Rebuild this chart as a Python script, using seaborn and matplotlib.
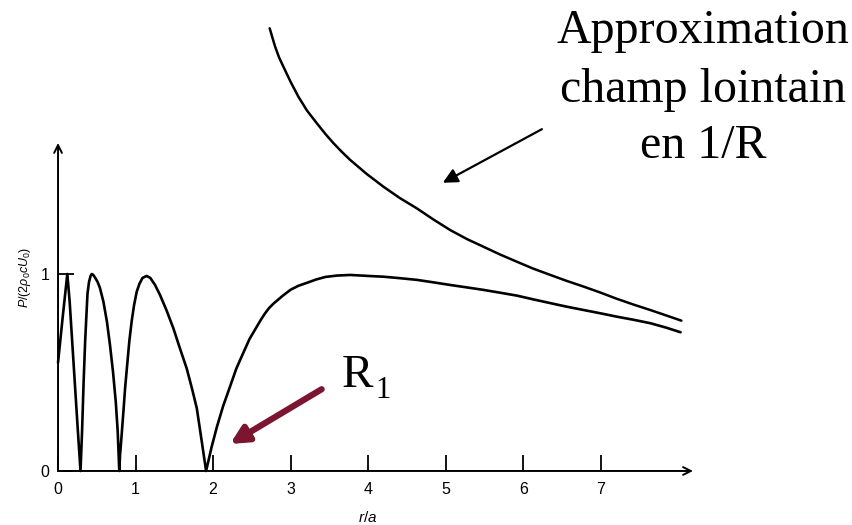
import matplotlib
matplotlib.use("Agg")
import matplotlib.pyplot as plt
import seaborn as sns

# On-axis pressure amplitude of a baffled circular piston, P/(2 rho0 c U0), vs r/a
r_near = [0.00, 0.06, 0.12, 0.15, 0.20, 0.25, 0.29,
          0.31, 0.33, 0.35, 0.38, 0.40, 0.42, 0.435, 0.455, 0.48, 0.51, 0.54, 0.585,
          0.63, 0.67, 0.71, 0.745, 0.77, 0.79,
          0.80, 0.82, 0.845, 0.865, 0.89, 0.92, 0.95, 0.98, 1.015, 1.05, 1.09, 1.144,
          1.19, 1.25, 1.316, 1.40, 1.488, 1.57, 1.66, 1.73, 1.79, 1.85, 1.91,
          1.98, 2.05, 2.13, 2.22, 2.30, 2.39, 2.47, 2.56, 2.62, 2.67, 2.72, 2.78, 2.84,
          2.90, 2.95, 3.00, 3.10, 3.21, 3.33, 3.45, 3.60, 3.77, 4.00, 4.20, 4.40, 4.63,
          4.85, 5.06, 5.27, 5.49, 5.70, 5.92, 6.13, 6.35, 6.56, 6.78, 7.00, 7.21, 7.43,
          7.64, 7.84, 8.03]
p_near = [0.55, 0.78, 1.00, 0.86, 0.55, 0.24, 0.00,
          0.20, 0.45, 0.66, 0.90, 0.96, 0.99, 1.00, 0.995, 0.98, 0.96, 0.93, 0.86,
          0.76, 0.64, 0.50, 0.35, 0.20, 0.00,
          0.08, 0.18, 0.31, 0.42, 0.53, 0.66, 0.76, 0.84, 0.91, 0.95, 0.98, 0.99,
          0.98, 0.945, 0.893, 0.815, 0.724, 0.625, 0.52, 0.415, 0.318, 0.16, 0.00,
          0.12, 0.225, 0.33, 0.43, 0.52, 0.60, 0.67, 0.73, 0.77, 0.80, 0.826, 0.85, 0.87,
          0.89, 0.905, 0.92, 0.94, 0.955, 0.972, 0.985, 0.992, 0.995, 0.99, 0.986, 0.979, 0.97,
          0.957, 0.944, 0.932, 0.919, 0.905, 0.89, 0.871, 0.852, 0.834, 0.817, 0.80, 0.783, 0.767,
          0.75, 0.728, 0.704]

# Far-field 1/R approximation
r_far = [2.73, 2.765, 2.80, 2.85, 2.907, 3.00, 3.10, 3.21, 3.338, 3.45, 3.55, 3.66,
         3.768, 3.98, 4.197, 4.41, 4.628, 4.84, 5.058, 5.27, 5.488, 5.70, 5.919, 6.13,
         6.35, 6.56, 6.778, 7.00, 7.20, 7.42, 7.639, 7.84, 8.04]
p_far = [2.247, 2.20, 2.154, 2.10, 2.052, 1.975, 1.90, 1.83, 1.765, 1.71, 1.665, 1.62,
         1.579, 1.508, 1.443, 1.385, 1.333, 1.277, 1.223, 1.178, 1.138, 1.099, 1.062, 1.027,
         0.995, 0.965, 0.936, 0.905, 0.875, 0.845, 0.817, 0.79, 0.763]

x_ticks = [0, 1, 2, 3, 4, 5, 6, 7]
y_ticks = [0, 1]

sns.set_style("white")
plt.rcParams["font.family"] = ["Liberation Sans", "DejaVu Sans"]
plt.rcParams["mathtext.fontset"] = "custom"
plt.rcParams["mathtext.it"] = "Liberation Sans:italic"
plt.rcParams["mathtext.rm"] = "Liberation Sans"

fig = plt.figure(figsize=(8.52, 5.25), dpi=100)
ax = fig.add_axes([0.0681, 0.1029, 0.7453, 0.6248])
ax.set_xlim(0, 8.19)
ax.set_ylim(0, 1.665)

sns.lineplot(x=r_near, y=p_near, ax=ax, color="black", lw=1.9, sort=False,
             clip_on=False)
sns.lineplot(x=r_far, y=p_far, ax=ax, color="black", lw=1.8, sort=False,
             clip_on=False)

# Axes drawn as arrows
for s in ax.spines.values():
    s.set_visible(False)
ax.annotate("", xy=(8.19, 0), xytext=(0, 0), xycoords="data",
            arrowprops=dict(arrowstyle="->", color="black", lw=1.4,
                            mutation_scale=14, shrinkA=0, shrinkB=0),
            annotation_clip=False)
ax.annotate("", xy=(0, 1.665), xytext=(0, 0), xycoords="data",
            arrowprops=dict(arrowstyle="->", color="black", lw=1.4,
                            mutation_scale=14, shrinkA=0, shrinkB=0),
            annotation_clip=False)

ax.set_xticks(x_ticks)
ax.set_yticks(y_ticks)
ax.set_xticklabels([str(t) for t in x_ticks])
ax.set_yticklabels([str(t) for t in y_ticks])
ax.tick_params(axis="both", direction="in", length=11.5, width=1.3,
               colors="black", labelsize=11.5, bottom=True, left=True)
ax.tick_params(axis="x", pad=8)
ax.tick_params(axis="y", pad=6)
ax.grid(False)

ax.set_xlabel(r"$r/a$", fontsize=11, color="black")
ax.xaxis.set_label_coords(0.488, -0.12)
ax.set_ylabel(r"$P/(2\rho_0 c U_0)$", fontsize=9, color="black")
ax.yaxis.set_label_coords(-0.040, 0.591)

# Far-field annotation
serif = ["Liberation Serif", "DejaVu Serif"]
for txt, yb in [("Approximation", 0.9175), ("champ lointain", 0.8063), ("en 1/R", 0.6983)]:
    fig.text(0.825, yb, txt, ha="center", va="baseline", fontsize=34.5,
             family=serif, color="black")
ax.annotate("", xy=(4.963, 1.463), xytext=(6.241, 1.735),
            arrowprops=dict(arrowstyle="-|>", color="black", lw=1.6,
                            mutation_scale=22, shrinkA=0, shrinkB=0),
            annotation_clip=False)

# First zero R1
ax.text(3.66, 0.428, "R", ha="left", va="baseline", fontsize=34, family=serif,
        color="black")
ax.text(4.09, 0.371, "1", ha="left", va="baseline", fontsize=22, family=serif,
        color="black")
ax.annotate("", xy=(2.219, 0.137), xytext=(3.40, 0.415),
            arrowprops=dict(arrowstyle="-|>", color="#7b1530", lw=4.5,
                            mutation_scale=26, shrinkA=0, shrinkB=0),
            annotation_clip=False)

fig.savefig("out.png", dpi=100, facecolor="white")
